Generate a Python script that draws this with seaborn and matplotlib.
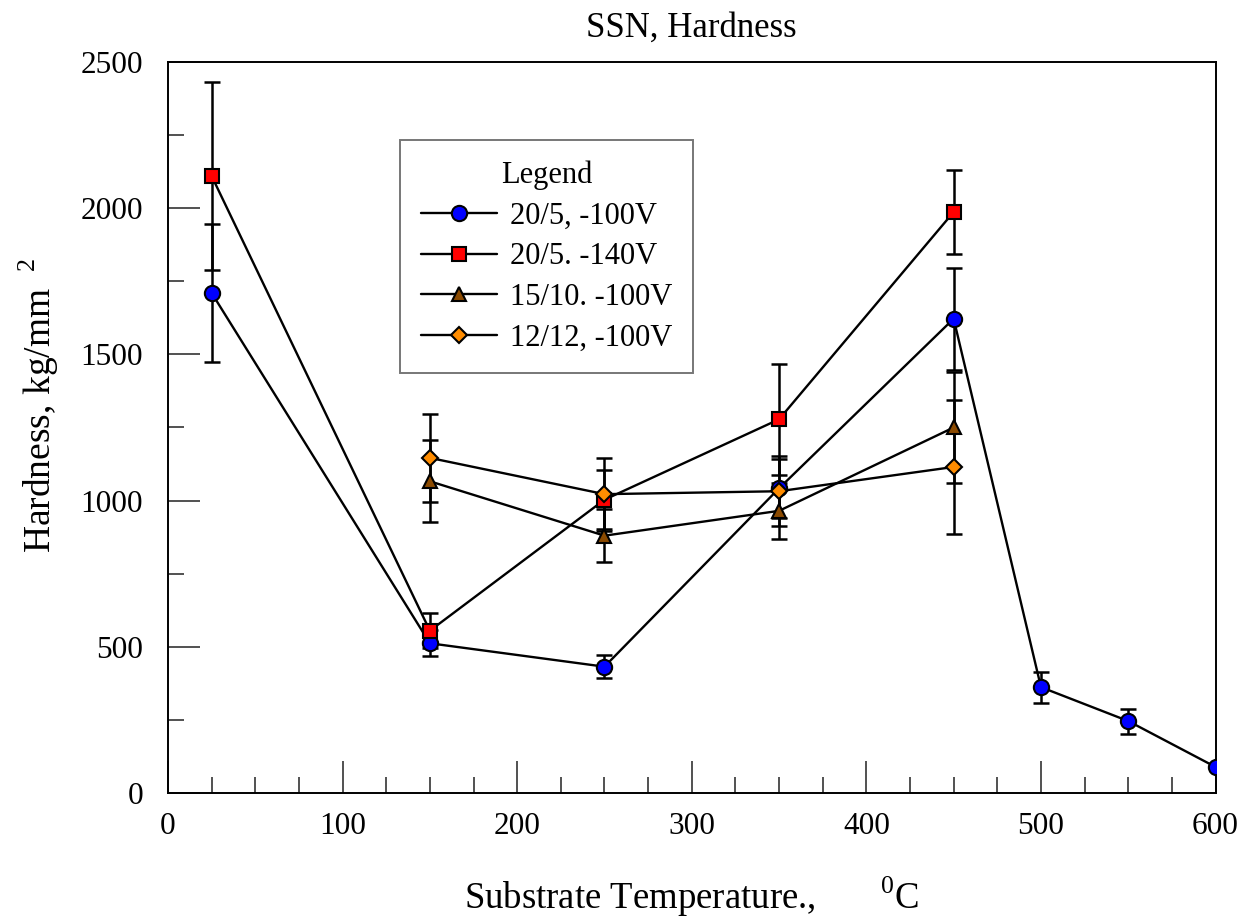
import numpy as np
import pandas as pd
import matplotlib
matplotlib.use('Agg')
import matplotlib.pyplot as plt
from matplotlib.ticker import MultipleLocator
import seaborn as sns

# data
temp_a = [25, 150, 250, 350, 450, 500, 550, 600]
hard_a = [1710, 512, 432, 1042, 1622, 362, 246, 89]
err_a = [235, 45, 40, 100, 175, 53, 43, 0]

temp_b = [25, 150, 250, 350, 450]
hard_b = [2110, 555, 1003, 1278, 1987]
err_b = [320, 60, 100, 190, 145]

temp_c = [150, 250, 350, 450]
hard_c = [1066, 880, 965, 1250]
err_c = [140, 90, 95, 190]

temp_d = [150, 250, 350, 450]
hard_d = [1146, 1022, 1032, 1115]
err_d = [150, 125, 120, 230]

labels = ['20/5, -100V', '20/5. -140V', '15/10. -100V', '12/12, -100V']
colors = ['#0000ff', '#ff0000', '#8b4a00', '#ff8c00']
markers = ['o', 's', '^', 'D']
msizes = [11, 10, 10.5, 8.5]

sns.set_style('ticks')
plt.rcParams['font.family'] = ['Liberation Serif', 'DejaVu Serif']
plt.rcParams['mathtext.fontset'] = 'custom'
plt.rcParams['mathtext.rm'] = 'Liberation Serif'
for k in ['text.color', 'axes.labelcolor', 'xtick.color', 'ytick.color']:
    plt.rcParams[k] = 'black'

fig = plt.figure(figsize=(12.48, 9.22), dpi=100)
ax = fig.add_axes([0.1346, 0.1399, 0.8394, 0.7929])

series = [(temp_a, hard_a, err_a), (temp_b, hard_b, err_b),
          (temp_c, hard_c, err_c), (temp_d, hard_d, err_d)]

for i, (t, h, e) in enumerate(series):
    df = pd.DataFrame({'T': t, 'H': h})
    ax.errorbar(t, h, yerr=e, fmt='none', ecolor='black', elinewidth=1.8,
                capsize=5.5, capthick=1.8, zorder=2)
    sns.lineplot(data=df, x='T', y='H', ax=ax, color='black', lw=1.7,
                 marker=markers[i], markersize=msizes[i],
                 markerfacecolor=colors[i], markeredgecolor='black',
                 markeredgewidth=1.5, label=labels[i], zorder=3)

ax.set_xlim(0, 600)
ax.set_ylim(0, 2500)
ax.xaxis.set_major_locator(MultipleLocator(100))
ax.xaxis.set_minor_locator(MultipleLocator(25))
ax.yaxis.set_major_locator(MultipleLocator(500))
ax.yaxis.set_minor_locator(MultipleLocator(250))
ax.tick_params(which='major', direction='in', length=23, width=1.2,
               color='#333333', labelsize=22.5)
ax.tick_params(axis='x', which='major', pad=14)
ax.tick_params(axis='y', which='major', pad=18)
ax.tick_params(which='minor', direction='in', length=11.5, width=1.2,
               color='#333333')
for sp in ax.spines.values():
    sp.set_linewidth(1.4)
    sp.set_color('black')

ax.set_xlabel('Substrate Temperature.,       $^{0}$C', fontsize=26.5, labelpad=24)
ax.set_ylabel('Hardness, kg/mm$^{\\ \\ 2}$', fontsize=27, labelpad=14)
ax.yaxis.label.set_y(0.53)
ax.set_title('SSN, Hardness', fontsize=25, pad=18)

leg = ax.legend(title='Legend', loc='upper left', bbox_to_anchor=(0.2214, 0.8933),
                fontsize=22, title_fontsize=22, frameon=True, fancybox=False,
                handlelength=2.5, handletextpad=0.43, borderpad=0.68,
                borderaxespad=0, labelspacing=0.38, edgecolor='#555555')
leg.get_frame().set_linewidth(1.4)
leg._legend_box.align = 'center'

fig.savefig('out.png', dpi=100)
